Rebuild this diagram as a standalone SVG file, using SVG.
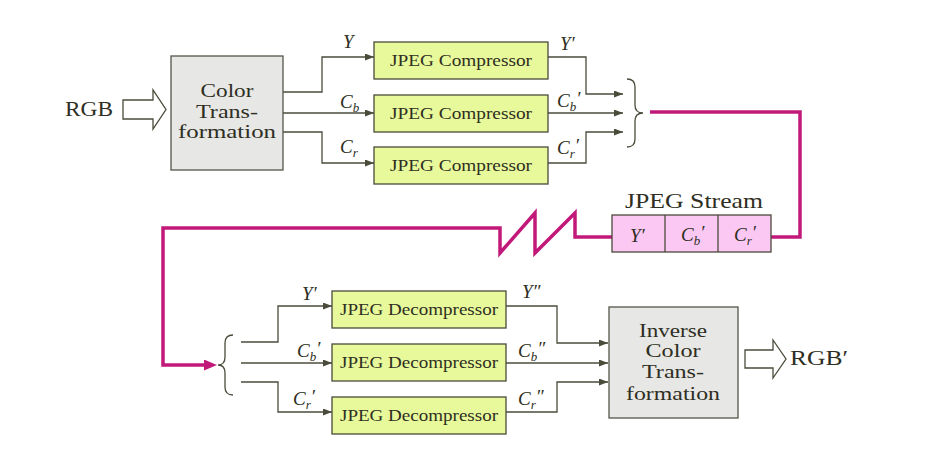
<svg xmlns="http://www.w3.org/2000/svg" width="926" height="474" viewBox="0 0 926 474">
<defs>
<style>
.t{font-family:'Liberation Serif','DejaVu Serif',serif;fill:#2e2e22}
.big{font-size:19px}
.mid{font-size:16px}
.m{font-family:'Liberation Serif','DejaVu Serif',serif;font-style:italic;font-size:19px;fill:#2e2e22}
.sub{font-size:13px}
.gray{fill:#e7e7e5;stroke:#55554a;stroke-width:1.3}
.green{fill:#e8f99c;stroke:#4a4a3c;stroke-width:1.3}
.pink{fill:#fbc8f4;stroke:#4a4a3c;stroke-width:1.3}
.wire{fill:none;stroke:#4b4b3b;stroke-width:1.3}
.mag{fill:none;stroke:#c2187a;stroke-width:3.5;stroke-linejoin:miter}
.hollow{fill:#ffffff;stroke:#4b4b3b;stroke-width:1.3}
.brace{fill:none;stroke:#4b4b3b;stroke-width:1.3}
</style>
<marker id="ah" markerUnits="userSpaceOnUse" markerWidth="9" markerHeight="7" refX="9" refY="3.5" orient="auto"><path d="M0,0 L9,3.5 L0,7 z" fill="#4b4b3b"/></marker>
<marker id="mah" markerUnits="userSpaceOnUse" markerWidth="13" markerHeight="11" refX="5" refY="5.5" orient="auto"><path d="M0,0 L13,5.5 L0,11 z" fill="#c2187a"/></marker>
</defs>
<rect width="926" height="474" fill="#ffffff"/>

<g id="connectors">
<path class="wire" d="M283,92 H322 V57 H374" marker-end="url(#ah)"/>
<path class="wire" d="M283,113 H374" marker-end="url(#ah)"/>
<path class="wire" d="M283,132 H322 V163 H374" marker-end="url(#ah)"/>
<path class="wire" d="M548,57 H586 V94 H623" marker-end="url(#ah)"/>
<path class="wire" d="M548,113 H623" marker-end="url(#ah)"/>
<path class="wire" d="M548,163 H586 V132 H623" marker-end="url(#ah)"/>
<path class="mag" d="M650,112 H800 V237 H771"/>
<path class="mag" d="M612,237 H575 V213 L535,253 V213 L500,253 V228 H163 V365 H209" marker-end="url(#mah)"/>
<path class="wire" d="M241,342 H278 V306 H332" marker-end="url(#ah)"/>
<path class="wire" d="M241,363 H332" marker-end="url(#ah)"/>
<path class="wire" d="M241,382 H278 V412 H332" marker-end="url(#ah)"/>
<path class="wire" d="M506,306 H557 V343 H608" marker-end="url(#ah)"/>
<path class="wire" d="M506,363 H608" marker-end="url(#ah)"/>
<path class="wire" d="M506,412 H557 V382 H608" marker-end="url(#ah)"/>
<text class="m" x="343" y="48">Y</text>
<text class="m" x="340" y="108">C<tspan class="sub" dy="4">b</tspan></text>
<text class="m" x="340" y="153">C<tspan class="sub" dy="4">r</tspan></text>
<text class="m" x="560" y="50">Y′</text>
<text class="m" x="557" y="107">C<tspan class="sub" dy="4">b</tspan><tspan dy="-6">′</tspan></text>
<text class="m" x="557" y="154">C<tspan class="sub" dy="4">r</tspan><tspan dy="-6">′</tspan></text>
<text class="m" x="302" y="300">Y′</text>
<text class="m" x="297" y="357">C<tspan class="sub" dy="4">b</tspan><tspan dy="-6">′</tspan></text>
<text class="m" x="293" y="405">C<tspan class="sub" dy="4">r</tspan><tspan dy="-6">′</tspan></text>
<text class="m" x="522" y="298">Y″</text>
<text class="m" x="518" y="357">C<tspan class="sub" dy="4">b</tspan><tspan dy="-6">″</tspan></text>
<text class="m" x="518" y="405">C<tspan class="sub" dy="4">r</tspan><tspan dy="-6">″</tspan></text>
</g>

<g id="rgb_in">
<text class="t" font-size="21" x="65" y="116" textLength="48" lengthAdjust="spacingAndGlyphs">RGB</text>
<polygon class="hollow" points="123,100 153,100 153,90 166,109.5 153,129 153,119 123,119"/>
</g>

<g id="color_transform">
<rect class="gray" x="171" y="56" width="112" height="114"/>
<text class="t big" x="227" y="97" text-anchor="middle" textLength="53" lengthAdjust="spacingAndGlyphs">Color</text>
<text class="t big" x="227" y="118" text-anchor="middle" textLength="62" lengthAdjust="spacingAndGlyphs">Trans-</text>
<text class="t big" x="227" y="138" text-anchor="middle" textLength="98" lengthAdjust="spacingAndGlyphs">formation</text>
</g>

<g id="comp_y">
<rect class="green" x="374" y="42" width="174" height="37"/>
<text class="t mid" x="461" y="66" text-anchor="middle" textLength="142" lengthAdjust="spacingAndGlyphs">JPEG Compressor</text>
</g>
<g id="comp_cb">
<rect class="green" x="374" y="95" width="174" height="37"/>
<text class="t mid" x="461" y="119" text-anchor="middle" textLength="142" lengthAdjust="spacingAndGlyphs">JPEG Compressor</text>
</g>
<g id="comp_cr">
<rect class="green" x="374" y="147" width="174" height="37"/>
<text class="t mid" x="461" y="171" text-anchor="middle" textLength="142" lengthAdjust="spacingAndGlyphs">JPEG Compressor</text>
</g>

<g id="brace_merge">
<path class="brace" d="M627,79 Q635,79 635,87 V105 Q635,113 643,113 Q635,113 635,121 V139 Q635,147 627,147"/>
</g>

<g id="jpeg_stream">
<text class="t" font-size="21" x="694" y="208" text-anchor="middle" textLength="138" lengthAdjust="spacingAndGlyphs">JPEG Stream</text>
<rect class="pink" x="612" y="215" width="159" height="37"/>
<line class="wire" x1="665" y1="215" x2="665" y2="252"/>
<line class="wire" x1="718" y1="215" x2="718" y2="252"/>
<text class="m" x="630" y="242">Y′</text>
<text class="m" x="681" y="241">C<tspan class="sub" dy="4">b</tspan><tspan dy="-6">′</tspan></text>
<text class="m" x="734" y="241">C<tspan class="sub" dy="4">r</tspan><tspan dy="-6">′</tspan></text>
</g>

<g id="brace_split">
<path class="brace" d="M233,335 Q225,335 225,343 V357 Q225,365 218,365 Q225,365 225,373 V387 Q225,395 233,395"/>
</g>

<g id="decomp_y">
<rect class="green" x="332" y="291" width="174" height="37"/>
<text class="t mid" x="419" y="315" text-anchor="middle" textLength="158" lengthAdjust="spacingAndGlyphs">JPEG Decompressor</text>
</g>
<g id="decomp_cb">
<rect class="green" x="332" y="344" width="174" height="37"/>
<text class="t mid" x="419" y="368" text-anchor="middle" textLength="158" lengthAdjust="spacingAndGlyphs">JPEG Decompressor</text>
</g>
<g id="decomp_cr">
<rect class="green" x="332" y="397" width="174" height="37"/>
<text class="t mid" x="419" y="421" text-anchor="middle" textLength="158" lengthAdjust="spacingAndGlyphs">JPEG Decompressor</text>
</g>

<g id="inverse_transform">
<rect class="gray" x="609" y="307" width="129" height="111"/>
<text class="t big" x="673" y="337" text-anchor="middle" textLength="68" lengthAdjust="spacingAndGlyphs">Inverse</text>
<text class="t big" x="673" y="357" text-anchor="middle" textLength="55" lengthAdjust="spacingAndGlyphs">Color</text>
<text class="t big" x="673" y="378" text-anchor="middle" textLength="62" lengthAdjust="spacingAndGlyphs">Trans-</text>
<text class="t big" x="673" y="400" text-anchor="middle" textLength="94" lengthAdjust="spacingAndGlyphs">formation</text>
</g>

<g id="rgb_out">
<polygon class="hollow" points="745,350 773,350 773,340 786,359 773,378 773,368 745,368"/>
<text class="t" font-size="21" x="790" y="365" textLength="58" lengthAdjust="spacingAndGlyphs">RGB′</text>
</g>
</svg>
